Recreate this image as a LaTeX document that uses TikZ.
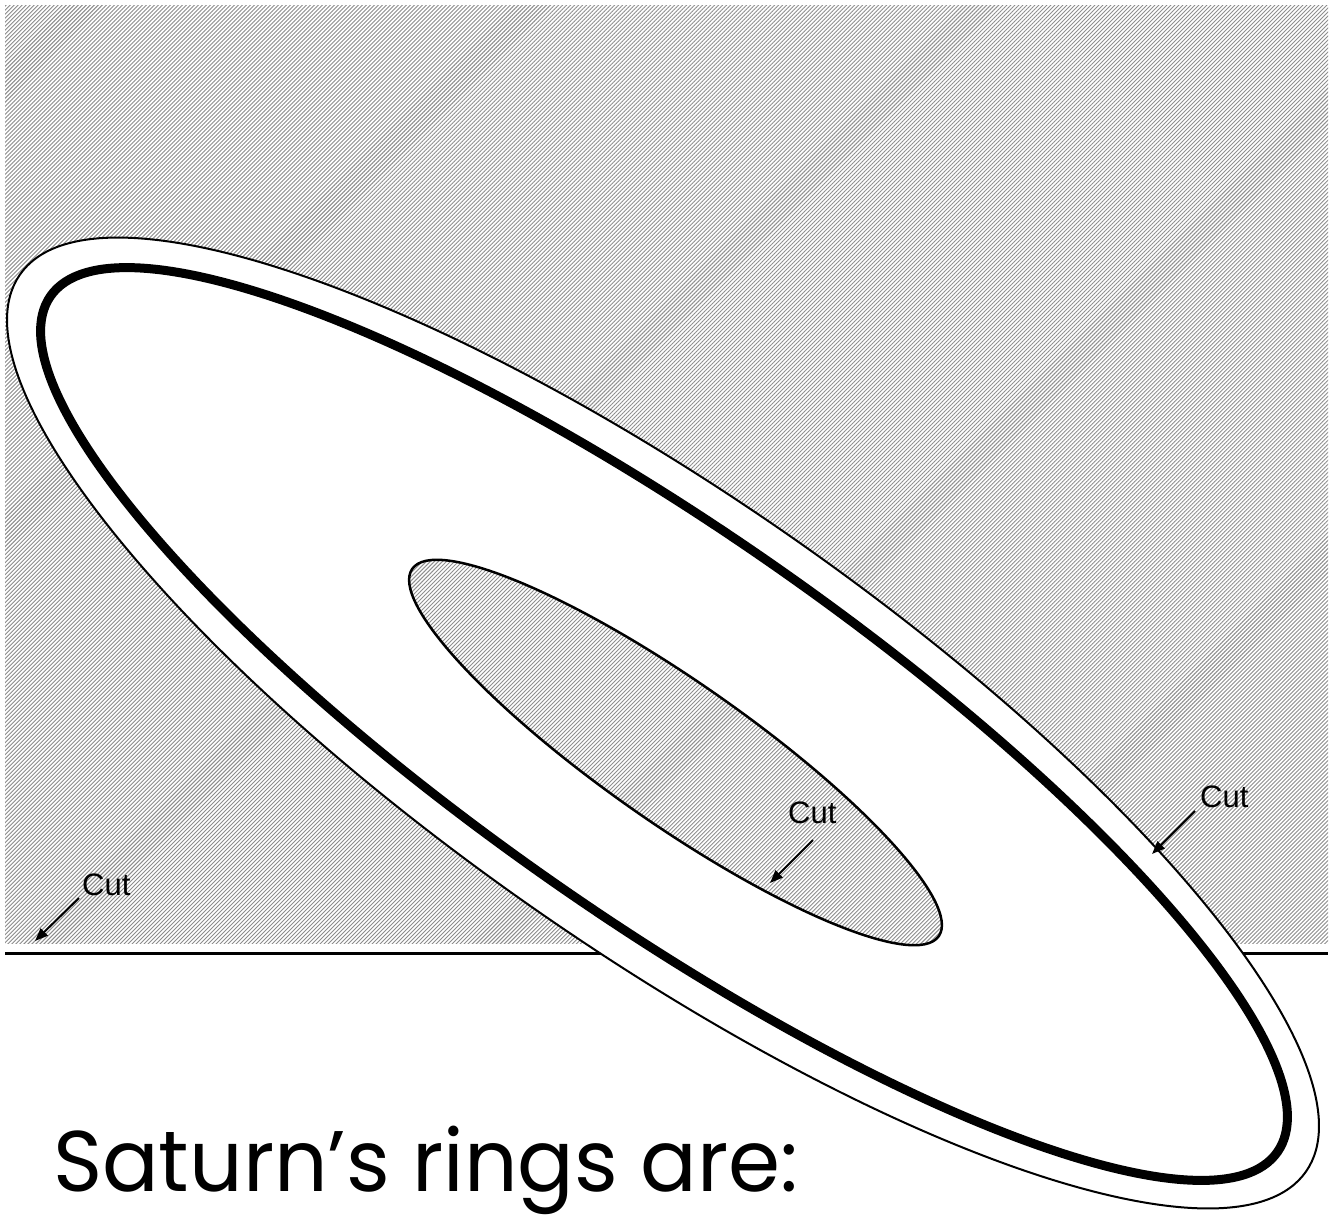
\documentclass[tikz,border=0pt]{standalone}
\usepackage{fontspec}
\setmainfont{Liberation Sans}
\newfontfamily\titlefont{Poppins}
\usetikzlibrary{patterns.meta,arrows.meta}
\begin{document}
\begin{tikzpicture}[x=1pt,y=-1pt,
  hatch/.style={pattern={Lines[angle=45,distance=2.83pt,line width=0.9pt]},pattern color=black!45},
  cutlabel/.style={font=\fontsize{31}{31}\selectfont,inner sep=0pt,anchor=base west},
  cutarrow/.style={line width=2pt,-{Triangle[length=13pt,width=10pt]}},
  thinring/.style={line width=2pt},
  thickring/.style={line width=9pt},
  innerring/.style={line width=2.5pt}]
\useasboundingbox (0,0) rectangle (1333,1216);
\fill[white] (0,0) rectangle (1333,1216);
% hatched background
\path[hatch] (5,5) rectangle (1328,943);
% horizon line
\coordinate (hl) at (5,953);
\coordinate (hr) at (1328,953);
\draw[line width=3pt] (hl) -- (hr);
% outer ring
\draw[thinring, fill=white, rotate around={-34.9:(663,723)}] (663,723) ellipse [x radius=784pt, y radius=226pt];
% thick ring
\draw[thickring, rotate around={-34.9:(664,724)}] (664,724) ellipse [x radius=748pt, y radius=193pt];
% inner hatched hole
\draw[innerring, hatch, rotate around={-34.9:(675.5,752.5)}] (675.5,752.5) ellipse [x radius=321pt, y radius=71pt];
% Cut labels
\node[cutlabel] (cut1) at (82,895) {Cut};
\node[cutlabel] (cut2) at (788,823) {Cut};
\node[cutlabel] (cut3) at (1200,807) {Cut};
\coordinate (s1) at (79,898);  \coordinate (t1) at (35,941);
\coordinate (s2) at (813,840); \coordinate (t2) at (770,883);
\coordinate (s3) at (1195,811);\coordinate (t3) at (1152,854);
\draw[cutarrow] (s1) -- (t1);
\draw[cutarrow] (s2) -- (t2);
\draw[cutarrow] (s3) -- (t3);
% title
\node[anchor=base west, inner sep=0pt] (title) at (53,1191) {\resizebox{745pt}{\height}{\titlefont\fontsize{86}{86}\selectfont Saturn’s rings are:}};
\end{tikzpicture}
\end{document}
